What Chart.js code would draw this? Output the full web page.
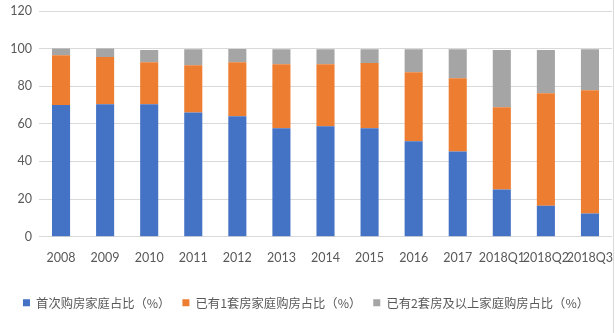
<!DOCTYPE html>
<html>
<head>
<meta charset="utf-8">
<script src="https://cdn.jsdelivr.net/npm/chart.js@4.4.1/dist/chart.umd.min.js"></script>
<style>
html,body{margin:0;padding:0;background:#fff;}
#wrap{width:613px;height:333px;border-right:1px solid #d9d9d9;}
</style>
</head>
<body>
<div id="wrap"><canvas id="c" width="613" height="333"></canvas></div>
<script>
const categories = ['2008','2009','2010','2011','2012','2013','2014','2015','2016','2017','2018Q1','2018Q2','2018Q3'];
const firstHome = [70, 70.4, 70.4, 66.1, 64, 57.6, 58.7, 57.6, 50.7, 45.3, 25.1, 16.5, 12.3];
const oneHome = [26.5, 25.1, 22.4, 25.1, 28.8, 34.1, 33, 34.7, 36.8, 39, 43.7, 59.8, 65.6];
const twoPlusHome = [3.5, 4.5, 6.4, 8.5, 7, 8, 8, 7.4, 12.2, 15.4, 30.4, 22.9, 21.8];
const seriesNames = ['首次购房家庭占比（%）','已有1套房家庭购房占比（%）','已有2套房及以上家庭购房占比（%）'];
const yTicks = [0, 20, 40, 60, 80, 100, 120];

const colors = ['#4472C4','#ED7D31','#A5A5A5'];
const dataSets = [firstHome, oneHome, twoPlusHome].map((d,i)=>({
  label: seriesNames[i],
  data: d,
  backgroundColor: colors[i],
  borderWidth: 0,
  barPercentage: 0.41,
  categoryPercentage: 1.0
}));

new Chart(document.getElementById('c'), {
  type: 'bar',
  data: { labels: categories, datasets: dataSets },
  options: {
    responsive: false,
    animation: false,
    devicePixelRatio: 1,
    layout: { padding: { top: 11, right: 1, bottom: 14, left: 0 } },
    plugins: {
      tooltip: { enabled: false },
      legend: {
        position: 'bottom',
        labels: {
          boxWidth: 7, boxHeight: 7,
          padding: 12,
          color: '#595959',
          font: { family: "'Noto Sans CJK SC', 'Lato', sans-serif", size: 12.3 }
        }
      }
    },
    scales: {
      x: {
        stacked: true,
        grid: { display: false, drawTicks: false },
        border: { display: false },
        ticks: {
          color: '#595959', autoSkip: false, maxRotation: 0, minRotation: 0,
          padding: 14,
          font: { family: "Lato, 'Liberation Sans', sans-serif", size: 12.5 }
        },
        afterFit: s => { s.height = 48; s.paddingLeft = 0; s.paddingRight = 0; }
      },
      y: {
        stacked: true,
        min: 0, max: 120,
        afterBuildTicks: s => { s.ticks = yTicks.map(v => ({ value: v })); },
        grid: { color: '#d9d9d9', lineWidth: 1, drawTicks: false },
        border: { display: false },
        ticks: {
          color: '#595959', padding: 7,
          font: { family: "Lato, 'Liberation Sans', sans-serif", size: 12.5 }
        },
        afterFit: s => { s.width = 39; s.paddingTop = 0; s.paddingBottom = 0; }
      }
    }
  }
});
</script>
</body>
</html>
